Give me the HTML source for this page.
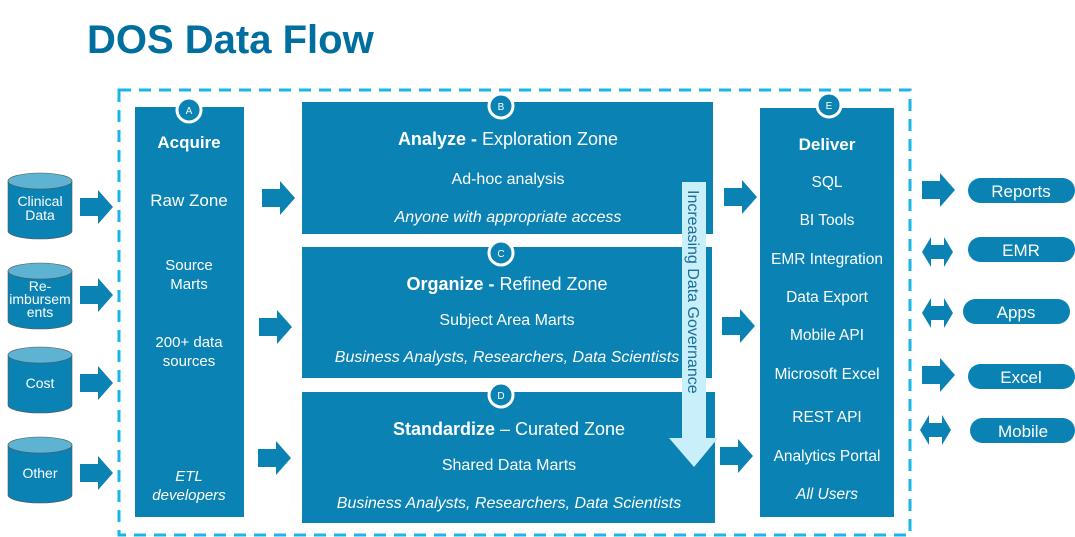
<!DOCTYPE html>
<html><head><meta charset="utf-8"><style>
body{margin:0;width:1075px;height:537px;overflow:hidden;background:#fff;font-family:"Liberation Sans",sans-serif}
svg{display:block}
text{font-family:"Liberation Sans",sans-serif}
</style></head><body>
<svg width="1075" height="537" viewBox="0 0 1075 537">
<defs>
<g id="ra"><polygon points="0,-9 18,-9 18,-17 33,0 18,17 18,9 0,9" fill="#0a82b3"/></g>
<g id="da"><polygon points="0,0 9,-15 9,-7 22,-7 22,-15 31,0 22,15 22,7 9,7 9,15" fill="#0a82b3"/></g>
</defs>
<text x="87" y="53" font-size="40" font-weight="bold" fill="#006e9e">DOS Data Flow</text>
<rect x="119" y="90" width="791" height="445" fill="none" stroke="#1ab4ea" stroke-width="3" stroke-dasharray="12,8"/>
<g fill="#0a82b3">
<rect x="135" y="107" width="109" height="410"/>
<rect x="302" y="102" width="411" height="132"/>
<rect x="302" y="247" width="410" height="131"/>
<rect x="302" y="392" width="413" height="131"/>
<rect x="760" y="108" width="134" height="409"/>
</g>
<g fill="#0a82b3" stroke="#fff" stroke-width="3">
<circle cx="189" cy="110" r="12"/><circle cx="501" cy="106" r="12"/><circle cx="501" cy="253" r="12"/><circle cx="501" cy="395" r="12"/><circle cx="829" cy="105" r="12"/>
</g>
<g fill="#fff" font-size="10" text-anchor="middle">
<text x="189" y="114">A</text><text x="501" y="110">B</text><text x="501" y="257">C</text><text x="501" y="399">D</text><text x="829" y="109">E</text>
</g>
<g>
<g transform="translate(8,173)"><path d="M0,8 v50 a32,8 0 0 0 64,0 v-50" fill="#0a82b3" stroke="#555" stroke-width="0.6"/><ellipse cx="32" cy="8" rx="32" ry="8" fill="#5eb3d3" stroke="#555" stroke-width="0.6"/></g>
<g transform="translate(8,263)"><path d="M0,8 v50 a32,8 0 0 0 64,0 v-50" fill="#0a82b3" stroke="#555" stroke-width="0.6"/><ellipse cx="32" cy="8" rx="32" ry="8" fill="#5eb3d3" stroke="#555" stroke-width="0.6"/></g>
<g transform="translate(8,347)"><path d="M0,8 v50 a32,8 0 0 0 64,0 v-50" fill="#0a82b3" stroke="#555" stroke-width="0.6"/><ellipse cx="32" cy="8" rx="32" ry="8" fill="#5eb3d3" stroke="#555" stroke-width="0.6"/></g>
<g transform="translate(8,437)"><path d="M0,8 v50 a32,8 0 0 0 64,0 v-50" fill="#0a82b3" stroke="#555" stroke-width="0.6"/><ellipse cx="32" cy="8" rx="32" ry="8" fill="#5eb3d3" stroke="#555" stroke-width="0.6"/></g>
</g>
<g fill="#fff" font-size="14" text-anchor="middle">
<text x="40" y="206">Clinical</text><text x="40" y="220">Data</text>
<text x="40" y="291">Re-</text><text x="40" y="304">imbursem</text><text x="40" y="317">ents</text>
<text x="40" y="388">Cost</text>
<text x="40" y="478">Other</text>
</g>
<use href="#ra" x="80" y="207"/><use href="#ra" x="80" y="295"/><use href="#ra" x="80" y="383"/><use href="#ra" x="80" y="473"/>
<use href="#ra" x="262" y="198"/><use href="#ra" x="259" y="327"/><use href="#ra" x="258" y="458"/>
<use href="#ra" x="724" y="197"/><use href="#ra" x="722" y="326"/><use href="#ra" x="720" y="456"/>
<use href="#ra" x="922" y="190"/><use href="#da" x="922" y="252"/><use href="#da" x="922" y="313"/><use href="#ra" x="922" y="375"/><use href="#da" x="920" y="430"/>
<g fill="#0a82b3">
<rect x="968" y="178" width="107" height="25" rx="12.5"/>
<rect x="968" y="237" width="107" height="25" rx="12.5"/>
<rect x="963" y="299" width="107" height="25" rx="12.5"/>
<rect x="968" y="364" width="107" height="25" rx="12.5"/>
<rect x="970" y="418" width="105" height="25" rx="12.5"/>
</g>
<g fill="#fff" font-size="17" text-anchor="middle">
<text x="1021" y="197">Reports</text><text x="1021" y="256">EMR</text><text x="1016" y="318">Apps</text><text x="1021" y="383">Excel</text><text x="1023" y="437">Mobile</text>
</g>
<polygon points="682,182 706,182 706,438 718,438 694,467 669,438 682,438" fill="#c9effb"/>
<text transform="translate(688,190) rotate(90)" font-size="16" fill="#1a6f98">Increasing Data Governance</text>
<g fill="#fff" text-anchor="middle">
<text x="189" y="148" font-size="17" font-weight="bold">Acquire</text>
<text x="189" y="206" font-size="17">Raw Zone</text>
<text x="189" y="270" font-size="15">Source</text><text x="189" y="289" font-size="15">Marts</text>
<text x="189" y="347" font-size="15">200+ data</text><text x="189" y="366" font-size="15">sources</text>
<text x="189" y="481" font-size="15" font-style="italic">ETL</text><text x="189" y="500" font-size="15" font-style="italic">developers</text>
</g>
<g fill="#fff" text-anchor="middle">
<text x="508" y="145" font-size="18"><tspan font-weight="bold">Analyze - </tspan>Exploration  Zone</text>
<text x="508" y="184" font-size="16">Ad-hoc analysis</text>
<text x="508" y="222" font-size="16" font-style="italic">Anyone with appropriate access</text>
<text x="507" y="290" font-size="18"><tspan font-weight="bold">Organize - </tspan>Refined Zone</text>
<text x="507" y="325" font-size="16">Subject Area Marts</text>
<text x="507" y="362" font-size="16" font-style="italic">Business Analysts, Researchers, Data Scientists</text>
<text x="509" y="435" font-size="18"><tspan font-weight="bold">Standardize</tspan> – Curated Zone</text>
<text x="509" y="470" font-size="16">Shared Data Marts</text>
<text x="509" y="508" font-size="16" font-style="italic">Business Analysts, Researchers, Data Scientists</text>
</g>
<g fill="#fff" text-anchor="middle" font-size="15.5">
<text x="827" y="150" font-size="17" font-weight="bold">Deliver</text>
<text x="827" y="187">SQL</text>
<text x="827" y="225">BI Tools</text>
<text x="827" y="264">EMR Integration</text>
<text x="827" y="302">Data Export</text>
<text x="827" y="340">Mobile API</text>
<text x="827" y="379">Microsoft Excel</text>
<text x="827" y="422">REST API</text>
<text x="827" y="461">Analytics Portal</text>
<text x="827" y="499" font-style="italic">All Users</text>
</g>
</svg>
</body></html>
